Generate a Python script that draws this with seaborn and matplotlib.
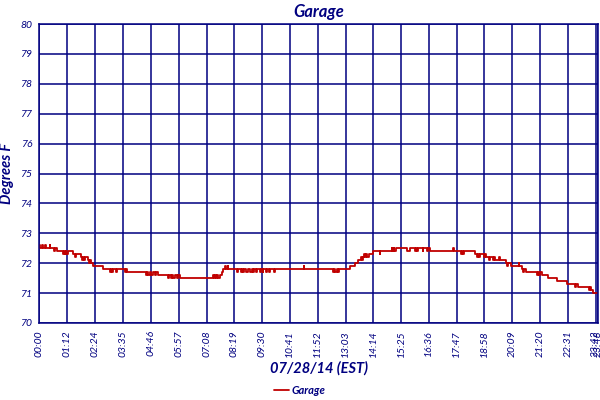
import pandas as pd
import matplotlib
matplotlib.use("Agg")
import matplotlib.pyplot as plt
import seaborn as sns

# minutes since midnight where the reading changes, and the new reading (deg F)
change_min = [
    0, 3, 8, 10, 15, 17, 27, 29, 38, 40, 46, 62, 64, 66, 68, 70, 73, 87, 92, 94,
    107, 110, 112, 114, 117, 125, 129, 131, 133, 138, 163, 181, 184, 186, 189, 196, 198,
    219, 221, 225, 273, 276, 279, 283, 287, 291, 296, 299, 304, 329, 332, 336, 339, 343,
    347, 352, 355, 360, 444, 446, 449, 452, 455, 458, 462, 467, 471, 475, 478, 482, 484,
    505, 508, 515, 518, 521, 523, 530, 533, 540, 543, 546, 548, 555, 558, 565, 568, 571,
    573, 580, 583, 587, 590, 600, 603, 676, 678, 750, 753, 756, 760, 764, 766, 794, 807,
    815, 822, 825, 827, 830, 833, 836, 839, 842, 852, 870, 872, 901, 903, 906, 908, 911,
    939, 947, 960, 962, 965, 967, 980, 982, 990, 993, 998, 1057, 1059, 1077, 1080, 1082,
    1085, 1113, 1120, 1122, 1124, 1126, 1138, 1140, 1143, 1150, 1152, 1160, 1162, 1164,
    1175, 1177, 1194, 1196, 1199, 1207, 1225, 1227, 1233, 1237, 1239, 1245, 1271, 1274,
    1277, 1280, 1284, 1299, 1322, 1350, 1370, 1372, 1376, 1406, 1408, 1410, 1414, 1428,
]
change_temp = [
    72.6, 72.5, 72.6, 72.5, 72.6, 72.5, 72.6, 72.5, 72.4, 72.5, 72.4, 72.3, 72.4, 72.3, 72.4, 72.3, 72.4, 72.3, 72.2, 72.3,
    72.2, 72.1, 72.2, 72.1, 72.2, 72.1, 72.0, 72.1, 72.0, 71.9, 71.8, 71.7, 71.8, 71.7, 71.8, 71.7, 71.8,
    71.7, 71.8, 71.7, 71.6, 71.7, 71.6, 71.7, 71.6, 71.7, 71.6, 71.7, 71.6, 71.5, 71.6, 71.5, 71.6, 71.5,
    71.6, 71.5, 71.6, 71.5, 71.6, 71.5, 71.6, 71.5, 71.6, 71.5, 71.6, 71.7, 71.8, 71.9, 71.8, 71.9, 71.8,
    71.7, 71.8, 71.7, 71.8, 71.7, 71.8, 71.7, 71.8, 71.7, 71.8, 71.7, 71.8, 71.7, 71.8, 71.7, 71.8, 71.7,
    71.8, 71.7, 71.8, 71.7, 71.8, 71.7, 71.8, 71.9, 71.8, 71.7, 71.8, 71.7, 71.8, 71.7, 71.8, 71.9, 72.0,
    72.1, 72.2, 72.1, 72.2, 72.3, 72.2, 72.3, 72.2, 72.3, 72.4, 72.3, 72.4, 72.5, 72.4, 72.5, 72.4, 72.5,
    72.4, 72.5, 72.4, 72.5, 72.4, 72.5, 72.4, 72.5, 72.4, 72.5, 72.4, 72.5, 72.4, 72.3, 72.4, 72.3,
    72.4, 72.3, 72.2, 72.3, 72.2, 72.3, 72.2, 72.3, 72.2, 72.1, 72.2, 72.1, 72.2, 72.1,
    72.2, 72.1, 72.0, 71.9, 72.0, 71.9, 72.0, 71.9, 71.8, 71.7, 71.8, 71.7, 71.6, 71.7,
    71.6, 71.7, 71.6, 71.5, 71.4, 71.3, 71.2, 71.3, 71.2, 71.1, 71.2, 71.1, 71.0, 71.0,
]

x_tick_labels = ["00:00", "01:12", "02:24", "03:35", "04:46", "05:57", "07:08", "08:19",
                 "09:30", "10:41", "11:52", "13:03", "14:14", "15:25", "16:36", "17:47",
                 "18:58", "20:09", "21:20", "22:31", "23:42", "23:48"]
y_ticks = [70, 71, 72, 73, 74, 75, 76, 77, 78, 79, 80]

navy = "#000080"
red = "#C00000"

df = pd.DataFrame({"minute": change_min, "temp": change_temp, "series": "Garage"})

sns.set_style("white")
plt.rcParams["font.family"] = ["Lato", "DejaVu Sans"]

fig = plt.figure(figsize=(6, 4), dpi=100)
ax = fig.add_axes([39 / 600, 77 / 400, 559 / 600, 299 / 400])

sns.lineplot(data=df, x="minute", y="temp", hue="series", palette=[red],
             estimator=None, drawstyle="steps-post", linewidth=1.3, ax=ax)

x_ticks = [int(s[:2]) * 60 + int(s[3:]) for s in x_tick_labels]
ax.set_xlim(0, x_ticks[-1])
ax.set_ylim(y_ticks[0], y_ticks[-1])
ax.set_xticks(x_ticks)
ax.set_xticklabels(x_tick_labels, rotation=90, fontsize=7.5, style="italic", color=navy)
ax.set_yticks(y_ticks)
ax.set_yticklabels(y_ticks, fontsize=7.5, style="italic", color=navy)
ax.tick_params(axis="both", length=0)
ax.tick_params(axis="x", pad=5)
ax.tick_params(axis="y", pad=5)

ax.grid(True, color=navy, linewidth=1.1)
ax.set_axisbelow(True)
for sp in ax.spines.values():
    sp.set_color(navy)
    sp.set_linewidth(1.1)

ax.set_title("Garage", fontsize=12, style="italic", weight="bold", color=navy, pad=5)
ax.set_xlabel("07/28/14 (EST)", fontsize=10.5, style="italic", weight="bold", color=navy, labelpad=3)
ax.set_ylabel("Degrees F", fontsize=10.5, style="italic", weight="bold", color=navy, labelpad=4)

handles, labels = ax.get_legend_handles_labels()
ax.get_legend().remove()
fig.legend(handles, labels, loc="lower center", bbox_to_anchor=(0.5, -0.015), frameon=False,
           handlelength=1.3, handletextpad=0.3,
           prop={"size": 8, "style": "italic", "weight": "bold"}, labelcolor=navy)

fig.savefig("out.png", dpi=100)
